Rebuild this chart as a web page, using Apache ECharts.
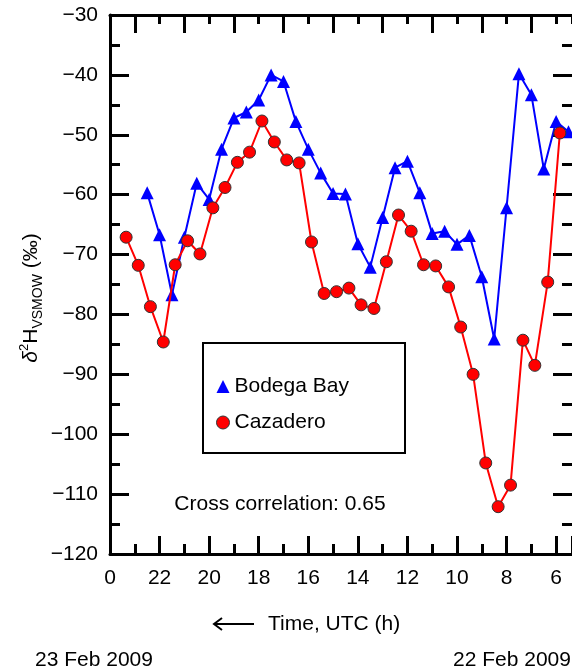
<!DOCTYPE html>
<html>
<head>
<meta charset="utf-8">
<script src="https://cdn.jsdelivr.net/npm/echarts@6/dist/echarts.min.js"></script>
<style>
  html, body { margin: 0; padding: 0; background: #fff; }
  #chart { width: 572px; height: 671px; }
</style>
</head>
<body>
<div id="chart"></div>
<script>
// Hour of day (UTC) for each sample, running backwards from 23 Feb into 22 Feb
const hoursBodega = [22.5, 22.0, 21.5, 21.0, 20.5, 20.0, 19.5, 19.0, 18.5, 18.0,
  17.5, 17.0, 16.5, 16.0, 15.5, 15.0, 14.5, 14.0, 13.5, 13.0,
  12.5, 12.0, 11.5, 11.0, 10.5, 10.0, 9.5, 9.0, 8.5, 8.0,
  7.5, 7.0, 6.5, 6.0, 5.5];
const valuesBodega = [-59.7, -66.7, -76.7, -67.1, -58.1, -60.8, -52.4, -47.2, -46.2, -44.2,
  -40.0, -41.1, -47.8, -52.4, -56.4, -59.8, -59.9, -68.2, -72.1, -63.8,
  -55.5, -54.4, -59.7, -66.5, -66.1, -68.3, -66.8, -73.7, -84.1, -62.2,
  -39.8, -43.3, -55.7, -47.8, -49.5];

const hoursCazadero = [23.35, 22.86, 22.37, 21.85, 21.37, 20.87, 20.37, 19.85, 19.36, 18.86,
  18.37, 17.87, 17.37, 16.87, 16.37, 15.87, 15.36, 14.86, 14.36, 13.87,
  13.35, 12.85, 12.36, 11.85, 11.35, 10.86, 10.34, 9.85, 9.35, 8.84,
  8.34, 7.84, 7.34, 6.86, 6.34, 5.85];
const valuesCazadero = [-67.1, -71.8, -78.7, -84.6, -71.7, -67.7, -69.9, -62.2, -58.8, -54.6,
  -52.9, -47.7, -51.2, -54.2, -54.7, -67.9, -76.5, -76.2, -75.6, -78.4,
  -79.0, -71.2, -63.4, -66.1, -71.7, -71.9, -75.4, -82.1, -90.0, -104.8,
  -112.1, -108.5, -84.3, -88.5, -74.6, -49.7];

const seriesNames = ['Bodega Bay', 'Cazadero'];
const yTicks = { min: -120, max: -30, step: 10 };
const xTickLabels = ['0', '22', '20', '18', '16', '14', '12', '10', '8', '6'];
const correlationText = 'Cross correlation: 0.65';

// Time axis runs right-to-left: position = hours before midnight of 23 Feb
const toPos = h => 24 - h;
const pairs = (hs, vs) => hs.map((h, i) => [toPos(h), vs[i]]);

const FONT = "'Liberation Sans', Arial, Helvetica, sans-serif";
const xMaxPos = 18.64;

const chart = echarts.init(document.getElementById('chart'), null, { renderer: 'canvas' });

const frameLine = { show: true, onZero: false, lineStyle: { color: '#000', width: 3 } };

const xCommon = {
  type: 'value', min: 0, max: xMaxPos, interval: 2,
  axisLine: frameLine, splitLine: { show: false },
  minorTick: { show: true, splitNumber: 2 }
};
const yCommon = {
  type: 'value', min: yTicks.min, max: yTicks.max, interval: yTicks.step,
  axisLine: frameLine, splitLine: { show: false },
  minorTick: { show: true, splitNumber: 2, length: 10, lineStyle: { color: '#000', width: 3 } },
  axisTick: { inside: true, length: 19, lineStyle: { color: '#000', width: 3 } }
};

chart.setOption({
  animation: false,
  backgroundColor: '#fff',
  textStyle: { fontFamily: FONT },
  grid: { left: 110, top: 15, width: 462, height: 539, containLabel: false },
  legend: {
    data: [
      { name: seriesNames[0], icon: 'triangle', itemStyle: { color: '#0000ff', borderWidth: 0 } },
      { name: seriesNames[1], icon: 'circle', itemStyle: { color: '#ff0000', borderColor: '#333', borderWidth: 1 } }
    ],
    orient: 'vertical', left: 211, top: 371,
    itemWidth: 13, itemHeight: 13, itemGap: 15,
    textStyle: { fontSize: 21, color: '#000', fontFamily: FONT }
  },
  xAxis: [
    Object.assign({}, xCommon, {
      position: 'bottom',
      axisTick: { inside: true, length: 18, lineStyle: { color: '#000', width: 3 } },
      minorTick: { show: true, splitNumber: 2, length: 10, lineStyle: { color: '#000', width: 3 } },
      axisLabel: {
        show: true, margin: 14, fontSize: 21, color: '#000', fontFamily: FONT,
        showMaxLabel: false,
        formatter: v => {
          const i = Math.round(v / 2);
          return (Math.abs(v - i * 2) < 1e-6 && xTickLabels[i] !== undefined) ? xTickLabels[i] : '';
        }
      }
    }),
    Object.assign({}, xCommon, {
      position: 'top',
      axisTick: { inside: true, length: 9, lineStyle: { color: '#000', width: 3 } },
      minorTick: { show: true, splitNumber: 2, length: 18, lineStyle: { color: '#000', width: 3 } },
      axisLabel: { show: false }
    })
  ],
  yAxis: [
    Object.assign({}, yCommon, {
      position: 'left',
      axisLabel: {
        show: true, margin: 12, fontSize: 21, color: '#000', fontFamily: FONT,
        formatter: v => (v < 0 ? '\u2212' + Math.abs(v) : String(v))
      }
    }),
    // right-hand ticks; the frame edge itself falls just past the page
    Object.assign({}, yCommon, { position: 'right', axisLine: { show: false, onZero: false }, axisLabel: { show: false } })
  ],
  series: [
    {
      name: seriesNames[0], type: 'line', xAxisIndex: 0, yAxisIndex: 0,
      data: pairs(hoursBodega, valuesBodega),
      symbol: 'triangle', symbolSize: 13,
      lineStyle: { color: '#0000ff', width: 2 },
      itemStyle: { color: '#0000ff', borderWidth: 0 },
      z: 2
    },
    {
      name: seriesNames[1], type: 'line', xAxisIndex: 0, yAxisIndex: 0,
      data: pairs(hoursCazadero, valuesCazadero),
      symbol: 'circle', symbolSize: 12,
      lineStyle: { color: '#ff0000', width: 2 },
      itemStyle: { color: '#ff0000', borderColor: '#333', borderWidth: 1 },
      z: 3
    }
  ],
  graphic: [
    // legend frame
    { type: 'rect', shape: { x: 203, y: 343, width: 202, height: 110 },
      style: { fill: null, stroke: '#000', lineWidth: 2 }, z: 1 },
    { type: 'text', x: 280, y: 504,
      style: { text: correlationText, font: '21px ' + FONT, fill: '#000', textAlign: 'center', textVerticalAlign: 'middle' } },
    // y-axis title, read bottom to top
    { type: 'text', x: 31, y: 298, rotation: Math.PI / 2,
      style: {
        text: '{d|\u03B4}{sup|2}{b|H}{sub|VSMOW}{b| (\u2030)}',
        textAlign: 'center', textVerticalAlign: 'middle',
        rich: {
          d: { font: 'italic 21px ' + FONT, fill: '#000', lineHeight: 30, verticalAlign: 'middle' },
          b: { font: '21px ' + FONT, fill: '#000', lineHeight: 30, verticalAlign: 'middle' },
          sup: { font: '13px ' + FONT, fill: '#000', lineHeight: 30, verticalAlign: 'top', padding: [2, 0, 0, 0] },
          sub: { font: '14px ' + FONT, fill: '#000', lineHeight: 30, verticalAlign: 'bottom', padding: [0, 0, 1, 0] }
        }
      } },
    // x-axis title with leftward arrow
    { type: 'line', shape: { x1: 214, y1: 624, x2: 254, y2: 624 }, style: { stroke: '#000', lineWidth: 2 } },
    { type: 'polyline', shape: { points: [[222, 618], [214, 624], [222, 630]] },
      style: { stroke: '#000', lineWidth: 2, fill: null } },
    { type: 'text', x: 268, y: 624,
      style: { text: 'Time, UTC (h)', font: '21px ' + FONT, fill: '#000', textAlign: 'left', textVerticalAlign: 'middle' } },
    { type: 'text', x: 35, y: 660,
      style: { text: '23 Feb 2009', font: '21px ' + FONT, fill: '#000', textAlign: 'left', textVerticalAlign: 'middle' } },
    { type: 'text', x: 453, y: 660,
      style: { text: '22 Feb 2009', font: '21px ' + FONT, fill: '#000', textAlign: 'left', textVerticalAlign: 'middle' } }
  ]
});
</script>
</body>
</html>
